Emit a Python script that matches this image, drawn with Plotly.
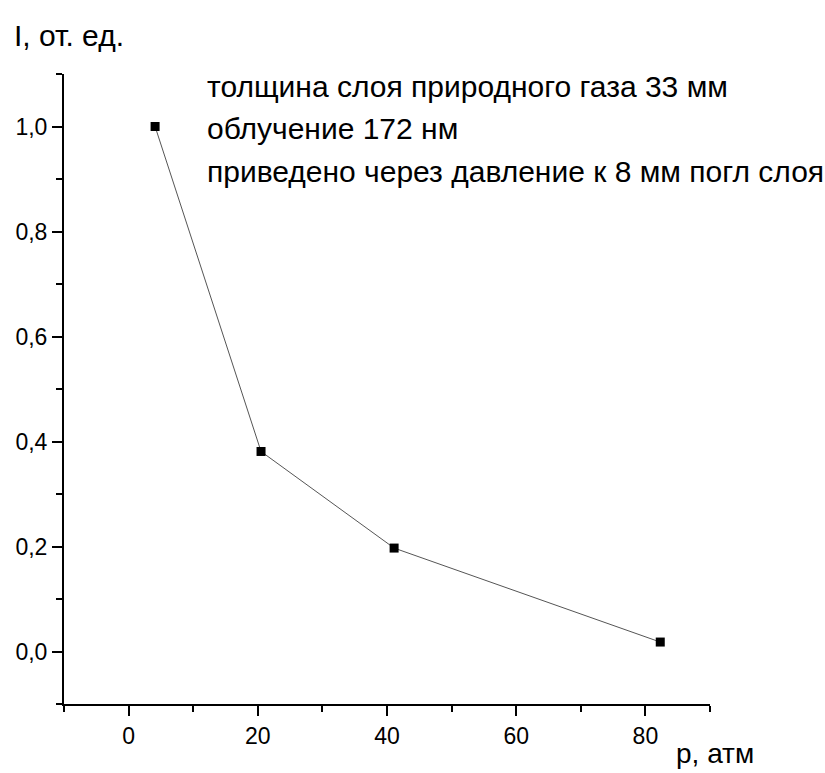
import plotly.graph_objects as go

pressure = [4.1, 20.5, 41.1, 82.3]
intensity = [1.0, 0.381, 0.197, 0.018]

y_ticks = [0.0, 0.2, 0.4, 0.6, 0.8, 1.0]
y_tick_labels = ["0,0", "0,2", "0,4", "0,6", "0,8", "1,0"]
x_ticks = [0, 20, 40, 60, 80]
x_tick_labels = ["0", "20", "40", "60", "80"]

note_lines = [
    "толщина слоя природного газа 33 мм",
    "облучение 172 нм",
    "приведено через давление к 8 мм погл слоя",
]
y_title = "I, от. ед."
x_title = "p, атм"

FONT = "Liberation Sans, Arial, sans-serif"

fig = go.Figure()
fig.add_trace(go.Scatter(
    x=pressure, y=intensity, mode="lines+markers",
    line=dict(color="#555555", width=1),
    marker=dict(symbol="square", size=9, color="black"),
    showlegend=False,
))

axis_common = dict(
    showline=True, linecolor="black", linewidth=2, mirror=False,
    showgrid=False, zeroline=False,
    ticks="outside", tickcolor="black", tickwidth=2, ticklen=10,
    tickfont=dict(family=FONT, size=23, color="black"),
)

fig.update_xaxes(
    range=[-10, 90], tickvals=x_ticks, ticktext=x_tick_labels,
    minor=dict(ticks="outside", tickvals=[-10, 10, 30, 50, 70, 90], ticklen=6,
               tickcolor="black", tickwidth=2),
    **axis_common,
)
fig.update_yaxes(
    range=[-0.1, 1.1], tickvals=y_ticks, ticktext=y_tick_labels,
    minor=dict(ticks="outside", tickvals=[-0.1, 0.1, 0.3, 0.5, 0.7, 0.9, 1.1], ticklen=6,
               tickcolor="black", tickwidth=2),
    **axis_common,
)

W, H = 825, 773
L, R, T, B = 64, 115, 74, 69
pw, ph = W - L - R, H - T - B

def px(x):
    return (x - L) / pw

def py(y):
    return (H - B - y) / ph

annotations = []
for line, yc in zip(note_lines, [86, 128, 171]):
    annotations.append(dict(
        text=line, x=px(205), y=py(yc), xref="paper", yref="paper",
        xanchor="left", yanchor="middle", showarrow=False,
        font=dict(family=FONT, size=30, color="black"),
    ))
annotations.append(dict(
    text=y_title, x=px(12), y=py(35), xref="paper", yref="paper",
    xanchor="left", yanchor="middle", showarrow=False,
    font=dict(family=FONT, size=30, color="black"),
))
annotations.append(dict(
    text=x_title, x=px(674), y=py(753), xref="paper", yref="paper",
    xanchor="left", yanchor="middle", showarrow=False,
    font=dict(family=FONT, size=28, color="black"),
))

fig.update_layout(
    width=W, height=H,
    margin=dict(l=L, r=R, t=T, b=B),
    paper_bgcolor="white", plot_bgcolor="white",
    annotations=annotations,
)

fig.write_html("out.html")
